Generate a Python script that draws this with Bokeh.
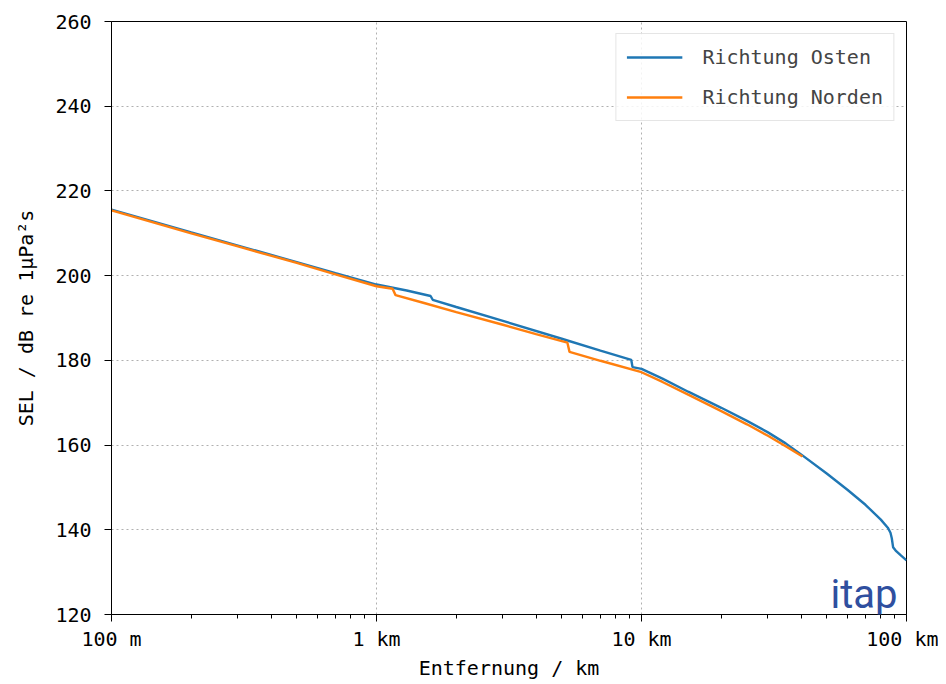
from bokeh.plotting import figure
from bokeh.models import (FixedTicker, CustomJSTickFormatter, Legend, LegendItem,
                          Label, ColumnDataSource)
from bokeh.embed import file_html
from bokeh.resources import INLINE

# ---- data ----
osten_km = [0.1, 0.2, 0.3, 0.5, 0.7, 1.0, 1.3, 1.6, 1.63, 2.0, 3.0, 5.0, 7.0, 9.15,
            9.25, 10, 12, 15, 20, 25, 30, 35, 40, 50, 60, 70, 80, 85, 87, 88, 89,
            91, 95, 100]
osten_sel = [215.6, 210.2, 207.1, 203.2, 200.6, 197.9, 196.5, 195.2, 194.3, 192.6,
             189.3, 185.1, 182.3, 180.1, 178.4, 178.0, 175.7, 172.6, 168.8, 165.7,
             163.0, 160.4, 157.8, 153.3, 149.4, 145.9, 142.4, 140.5, 139.3, 138.0,
             135.9, 135.1, 134.0, 132.8]

norden_km = [0.1, 0.2, 0.3, 0.5, 0.7, 1.0, 1.15, 1.18, 1.5, 2.0, 3.0, 4.0, 5.25,
             5.35, 7.0, 10, 12, 15, 20, 25, 30, 35, 40.5]
norden_sel = [215.4, 210.0, 206.9, 203.0, 200.3, 197.5, 196.9, 195.4, 193.6, 191.4,
              188.4, 186.2, 184.2, 182.0, 179.9, 177.2, 174.9, 171.9, 168.0, 164.9,
              162.2, 159.7, 157.3]

x_major = [0.1, 1, 10, 100]
x_labels = ["100 m", "1 km", "10 km", "100 km"]
x_minor = [0.2, 0.3, 0.4, 0.5, 0.6, 0.7, 0.8, 0.9, 2, 3, 4, 5, 6, 7, 8, 9,
           20, 30, 40, 50, 60, 70, 80, 90]
y_major = [120, 140, 160, 180, 200, 220, 240, 260]

series_names = ["Richtung Osten", "Richtung Norden"]
colors = ["#1f77b4", "#ff7f0e"]

FONT = "DejaVu Sans Mono"
FS = "20px"

p = figure(width=938, height=684, x_axis_type="log", x_range=(0.1, 100),
           y_range=(120, 260), output_backend="svg", toolbar_location=None,
           min_border_left=111, min_border_top=21, min_border_right=32,
           min_border_bottom=70)
p.background_fill_color = "white"
p.border_fill_color = "white"
p.outline_line_color = "black"
p.outline_line_width = 1
p.outline_line_alpha = 1

src_o = ColumnDataSource(dict(x=osten_km, y=osten_sel))
src_n = ColumnDataSource(dict(x=norden_km, y=norden_sel))
r_o = p.line("x", "y", source=src_o, line_color=colors[0], line_width=2.4)
r_n = p.line("x", "y", source=src_n, line_color=colors[1], line_width=2.4)

# axes
xa = p.xaxis[0]
xa.ticker = FixedTicker(ticks=x_major, minor_ticks=x_minor)
xa.formatter = CustomJSTickFormatter(args=dict(vals=x_major, labs=x_labels), code="""
    let best = 0; let bd = Infinity;
    for (let i = 0; i < vals.length; i++) {
        const d = Math.abs(Math.log10(vals[i]) - Math.log10(tick));
        if (d < bd) { bd = d; best = i; }
    }
    return labs[best];
""")
xa.axis_label = "Entfernung / km"
ya = p.yaxis[0]
ya.ticker = FixedTicker(ticks=y_major, minor_ticks=[])
ya.axis_label = "SEL / dB re 1µPa²s"

for ax in (xa, ya):
    ax.axis_line_color = "black"
    ax.major_tick_line_color = "black"
    ax.minor_tick_line_color = "black"
    ax.major_tick_out = 7
    ax.major_tick_in = 0
    ax.minor_tick_out = 4
    ax.minor_tick_in = 0
    ax.major_label_text_font = FONT
    ax.major_label_text_font_size = FS
    ax.major_label_text_color = "black"
    ax.axis_label_text_font = FONT
    ax.axis_label_text_font_size = FS
    ax.axis_label_text_font_style = "normal"
    ax.axis_label_text_color = "black"
xa.major_label_standoff = 5
ya.major_label_standoff = 13
xa.axis_label_standoff = 2
ya.axis_label_standoff = 14

# grid
for g in (p.xgrid[0], p.ygrid[0]):
    g.grid_line_color = "#b0b0b0"
    g.grid_line_dash = "2 3"
    g.grid_line_width = 1
p.xgrid[0].ticker = FixedTicker(ticks=x_major)
p.ygrid[0].ticker = FixedTicker(ticks=y_major)

# legend
legend = Legend(items=[LegendItem(label=series_names[0], renderers=[r_o]),
                       LegendItem(label=series_names[1], renderers=[r_n])],
                location="top_right", margin=12, padding=10, spacing=14,
                glyph_width=56, glyph_height=26, label_standoff=20,
                label_text_font=FONT, label_text_font_size=FS,
                border_line_color="#cccccc", border_line_width=1,
                background_fill_alpha=0.85)
p.add_layout(legend)

# logo
logo = Label(x=786, y=-3, x_units="screen", y_units="screen", text="itap",
             text_align="right", text_baseline="bottom",
             text_font="Roboto", text_font_size="40px", text_color="#2f4f9f")
p.add_layout(logo)

open("out.html", "w").write(file_html(p, INLINE))
